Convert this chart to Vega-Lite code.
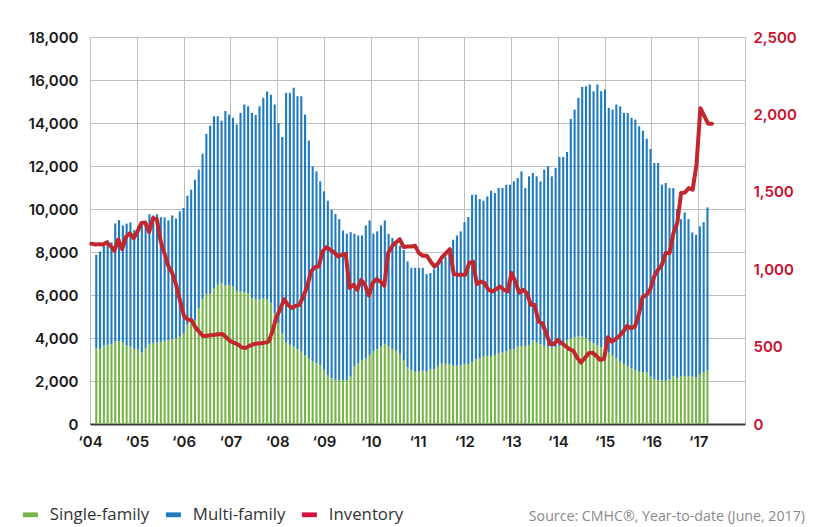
{
  "$schema": "https://vega.github.io/schema/vega-lite/v6.json",
  "width": 655,
  "height": 387,
  "autosize": "none",
  "padding": {"left": 90, "top": 37, "right": 69, "bottom": 103},
  "background": "#ffffff",
  "config": {
    "view": {"stroke": null},
    "axis": {"labelFlush": false, "labelOverlap": false, "ticks": false, "title": null, "labelFont": "Inter", "labelFontSize": 15, "labelFontWeight": 600, "labelColor": "#1a1a1a", "gridColor": "#bdbdbd", "gridWidth": 1}
  },
  "title": {"text": "Source: CMHC®, Year-to-date (June, 2017)", "orient": "bottom", "anchor": "end", "frame": "group", "font": "Open Sans", "fontSize": 14.2, "fontWeight": "normal", "color": "#8a8a8a", "offset": -14, "dx": 60},
  "datasets": {
    "years": [{"yr":2004},{"yr":2005},{"yr":2006},{"yr":2007},{"yr":2008},{"yr":2009},{"yr":2010},{"yr":2011},{"yr":2012},{"yr":2013},{"yr":2014},{"yr":2015},{"yr":2016},{"yr":2017},{"yr":2018}],
    "monthly": [
      {"k":0,"sf":3524,"mf":4346,"inv":1165},{"k":1,"sf":3478,"mf":4547,"inv":1160},{"k":2,"sf":3648,"mf":4802,"inv":1162},{"k":3,"sf":3679,"mf":4871,"inv":1160},{"k":4,"sf":3710,"mf":4740,"inv":1172},{"k":5,"sf":3834,"mf":5496,"inv":1150},{"k":6,"sf":3865,"mf":5615,"inv":1120},{"k":7,"sf":3788,"mf":5447,"inv":1192},{"k":8,"sf":3648,"mf":5672,"inv":1130},{"k":9,"sf":3602,"mf":5778,"inv":1210},{"k":10,"sf":3493,"mf":5527,"inv":1232},{"k":11,"sf":3478,"mf":5722,"inv":1200},
      {"k":12,"sf":3322,"mf":5928,"inv":1244},{"k":13,"sf":3524,"mf":5826,"inv":1298},{"k":14,"sf":3726,"mf":6034,"inv":1302},{"k":15,"sf":3757,"mf":5943,"inv":1240},{"k":16,"sf":3788,"mf":5972,"inv":1330},{"k":17,"sf":3819,"mf":5801,"inv":1322},{"k":18,"sf":3850,"mf":5760,"inv":1180},{"k":19,"sf":3912,"mf":5558,"inv":1100},{"k":20,"sf":3943,"mf":5757,"inv":1020},{"k":21,"sf":3990,"mf":5560,"inv":975},{"k":22,"sf":4067,"mf":5823,"inv":900},{"k":23,"sf":4222,"mf":5828,"inv":800},
      {"k":24,"sf":4610,"mf":6010,"inv":700},{"k":25,"sf":4688,"mf":6212,"inv":675},{"k":26,"sf":4843,"mf":6517,"inv":670},{"k":27,"sf":5386,"mf":6444,"inv":625},{"k":28,"sf":5805,"mf":6765,"inv":595},{"k":29,"sf":6038,"mf":7452,"inv":568},{"k":30,"sf":6054,"mf":7826,"inv":570},{"k":31,"sf":6318,"mf":7992,"inv":573},{"k":32,"sf":6473,"mf":7837,"inv":576},{"k":33,"sf":6551,"mf":7559,"inv":580},{"k":34,"sf":6427,"mf":8133,"inv":582},{"k":35,"sf":6473,"mf":7917,"inv":560},
      {"k":36,"sf":6396,"mf":7844,"inv":535},{"k":37,"sf":6163,"mf":7762,"inv":525},{"k":38,"sf":6163,"mf":8307,"inv":515},{"k":39,"sf":6117,"mf":8743,"inv":495},{"k":40,"sf":6085,"mf":8695,"inv":490},{"k":41,"sf":5852,"mf":8618,"inv":505},{"k":42,"sf":5805,"mf":8570,"inv":515},{"k":43,"sf":5805,"mf":8975,"inv":520},{"k":44,"sf":5852,"mf":9318,"inv":522},{"k":45,"sf":5805,"mf":9655,"inv":526},{"k":46,"sf":5619,"mf":9691,"inv":532},{"k":47,"sf":5154,"mf":9706,"inv":600},
      {"k":48,"sf":4700,"mf":9300,"inv":690},{"k":49,"sf":4200,"mf":9150,"inv":740},{"k":50,"sf":3800,"mf":11600,"inv":805},{"k":51,"sf":3680,"mf":11720,"inv":770},{"k":52,"sf":3600,"mf":12035,"inv":750},{"k":53,"sf":3480,"mf":11765,"inv":763},{"k":54,"sf":3370,"mf":11875,"inv":770},{"k":55,"sf":3210,"mf":11180,"inv":824},{"k":56,"sf":3060,"mf":10120,"inv":888},{"k":57,"sf":2900,"mf":9080,"inv":985},{"k":58,"sf":2830,"mf":8920,"inv":1013},{"k":59,"sf":2750,"mf":8535,"inv":1017},
      {"k":60,"sf":2515,"mf":8305,"inv":1114},{"k":61,"sf":2282,"mf":8103,"inv":1143},{"k":62,"sf":2127,"mf":7838,"inv":1125},{"k":63,"sf":2049,"mf":7716,"inv":1108},{"k":64,"sf":2049,"mf":7481,"inv":1082},{"k":65,"sf":2049,"mf":6951,"inv":1093},{"k":66,"sf":2049,"mf":6801,"inv":1099},{"k":67,"sf":2204,"mf":6721,"inv":878},{"k":68,"sf":2670,"mf":6180,"inv":899},{"k":69,"sf":2825,"mf":5945,"inv":867},{"k":70,"sf":2980,"mf":5790,"inv":931},{"k":71,"sf":3058,"mf":6177,"inv":899},
      {"k":72,"sf":3213,"mf":6257,"inv":830},{"k":73,"sf":3369,"mf":5481,"inv":910},{"k":74,"sf":3478,"mf":5482,"inv":936},{"k":75,"sf":3602,"mf":5633,"inv":920},{"k":76,"sf":3726,"mf":5744,"inv":893},{"k":77,"sf":3602,"mf":5248,"inv":1104},{"k":78,"sf":3493,"mf":5157,"inv":1147},{"k":79,"sf":3415,"mf":5045,"inv":1173},{"k":80,"sf":3260,"mf":5030,"inv":1194},{"k":81,"sf":2950,"mf":5150,"inv":1143},{"k":82,"sf":2639,"mf":4921,"inv":1147},{"k":83,"sf":2515,"mf":4750,"inv":1147},
      {"k":84,"sf":2437,"mf":4828,"inv":1151},{"k":85,"sf":2437,"mf":4828,"inv":1104},{"k":86,"sf":2484,"mf":4781,"inv":1087},{"k":87,"sf":2437,"mf":4533,"inv":1087},{"k":88,"sf":2546,"mf":4474,"inv":1050},{"k":89,"sf":2546,"mf":4654,"inv":1017},{"k":90,"sf":2701,"mf":4689,"inv":1039},{"k":91,"sf":2825,"mf":4765,"inv":1078},{"k":92,"sf":2794,"mf":4996,"inv":1104},{"k":93,"sf":2794,"mf":5156,"inv":1130},{"k":94,"sf":2717,"mf":5853,"inv":970},{"k":95,"sf":2717,"mf":6053,"inv":964},
      {"k":96,"sf":2717,"mf":6243,"inv":964},{"k":97,"sf":2794,"mf":6596,"inv":964},{"k":98,"sf":2794,"mf":6831,"inv":1039},{"k":99,"sf":2872,"mf":7793,"inv":1050},{"k":100,"sf":3011,"mf":7654,"inv":903},{"k":101,"sf":3058,"mf":7407,"inv":920},{"k":102,"sf":3136,"mf":7249,"inv":910},{"k":103,"sf":3167,"mf":7418,"inv":867},{"k":104,"sf":3136,"mf":7714,"inv":856},{"k":105,"sf":3213,"mf":7527,"inv":871},{"k":106,"sf":3291,"mf":7684,"inv":888},{"k":107,"sf":3322,"mf":7653,"inv":867},
      {"k":108,"sf":3369,"mf":7761,"inv":856},{"k":109,"sf":3478,"mf":7652,"inv":975},{"k":110,"sf":3478,"mf":7807,"inv":920},{"k":111,"sf":3602,"mf":7838,"inv":849},{"k":112,"sf":3633,"mf":8117,"inv":867},{"k":113,"sf":3633,"mf":7342,"inv":845},{"k":114,"sf":3679,"mf":7841,"inv":770},{"k":115,"sf":3881,"mf":7794,"inv":770},{"k":116,"sf":3788,"mf":7732,"inv":662},{"k":117,"sf":3710,"mf":7575,"inv":651},{"k":118,"sf":3633,"mf":8197,"inv":586},{"k":119,"sf":3602,"mf":8383,"inv":517},
      {"k":120,"sf":3571,"mf":7949,"inv":517},{"k":121,"sf":3571,"mf":8339,"inv":543},{"k":122,"sf":3633,"mf":8787,"inv":522},{"k":123,"sf":3757,"mf":8663,"inv":504},{"k":124,"sf":3912,"mf":8738,"inv":483},{"k":125,"sf":3990,"mf":10200,"inv":474},{"k":126,"sf":4036,"mf":10584,"inv":429},{"k":127,"sf":4067,"mf":11103,"inv":397},{"k":128,"sf":4067,"mf":11613,"inv":425},{"k":129,"sf":3990,"mf":11720,"inv":457},{"k":130,"sf":3834,"mf":11956,"inv":461},{"k":131,"sf":3757,"mf":11718,"inv":440},
      {"k":132,"sf":3679,"mf":12111,"inv":414},{"k":133,"sf":3571,"mf":11904,"inv":420},{"k":134,"sf":3446,"mf":12109,"inv":560},{"k":135,"sf":3322,"mf":11378,"inv":532},{"k":136,"sf":3183,"mf":11437,"inv":548},{"k":137,"sf":3058,"mf":11802,"inv":569},{"k":138,"sf":2903,"mf":11877,"inv":597},{"k":139,"sf":2794,"mf":11676,"inv":634},{"k":140,"sf":2701,"mf":11769,"inv":619},{"k":141,"sf":2592,"mf":11648,"inv":629},{"k":142,"sf":2515,"mf":11645,"inv":705},{"k":143,"sf":2437,"mf":11413,"inv":819},
      {"k":144,"sf":2406,"mf":11239,"inv":834},{"k":145,"sf":2400,"mf":10870,"inv":870},{"k":146,"sf":2204,"mf":10586,"inv":953},{"k":147,"sf":2080,"mf":10060,"inv":996},{"k":148,"sf":2049,"mf":10091,"inv":1028},{"k":149,"sf":2018,"mf":9112,"inv":1104},{"k":150,"sf":2018,"mf":9192,"inv":1104},{"k":151,"sf":2080,"mf":8895,"inv":1233},{"k":152,"sf":2235,"mf":8740,"inv":1298},{"k":153,"sf":2127,"mf":7873,"inv":1492},{"k":154,"sf":2204,"mf":7326,"inv":1496},{"k":155,"sf":2235,"mf":7605,"inv":1524},
      {"k":156,"sf":2235,"mf":7295,"inv":1514},{"k":157,"sf":2204,"mf":6706,"inv":1680},{"k":158,"sf":2173,"mf":6627,"inv":2040},{"k":159,"sf":2329,"mf":6861,"inv":1990},{"k":160,"sf":2406,"mf":6984,"inv":1940},{"k":161,"sf":2484,"mf":7591,"inv":1940}
    ]
  },
  "layer": [
    {
      "data": {"name": "years"},
      "mark": {"type": "rule", "strokeOpacity": 0},
      "encoding": {
        "x": {
          "field": "yr", "type": "quantitative",
          "scale": {"domain": [2004, 2018], "nice": false, "zero": false},
          "axis": {
            "orient": "bottom",
            "values": [2004,2005,2006,2007,2008,2009,2010,2011,2012,2013,2014,2015,2016,2017,2018],
            "labelExpr": "datum.value < 2018 ? '‘' + slice(toString(datum.value), 2) : ''",
            "grid": true,
            "domain": true, "domainColor": "#3a3a3a", "domainWidth": 2,
            "labelPadding": 10, "labelDx": 2
          }
        }
      }
    },
    {
      "data": {"name": "monthly"},
      "transform": [{"fold": ["sf", "mf"], "as": ["key", "value"]}],
      "mark": {"type": "bar", "width": 2.1},
      "encoding": {
        "x": {"field": "k", "type": "quantitative", "scale": {"domain": [-0.337, 169.57], "nice": false, "zero": false}, "axis": null},
        "y": {
          "field": "value", "type": "quantitative", "stack": "zero",
          "scale": {"domain": [0, 18000], "nice": false},
          "axis": {"orient": "left", "values": [0,2000,4000,6000,8000,10000,12000,14000,16000,18000], "format": ",d", "grid": true, "domain": false, "labelPadding": 12}
        },
        "color": {
          "field": "key", "type": "nominal",
          "scale": {"domain": ["sf", "mf", "inv"], "range": ["#74b546", "#1f7bc1", "#d3143f"]},
          "legend": {
            "orient": "none", "legendX": -68, "legendY": 469, "direction": "horizontal", "title": null,
            "symbolType": "M-1,-0.32H1V0.32H-1Z", "symbolSize": 225, "symbolStrokeWidth": 0,
            "labelFont": "Open Sans", "labelFontSize": 16.8, "labelColor": "#333333", "labelOffset": 11,
            "columnPadding": 15, "padding": 0, "offset": 0,
            "labelExpr": "datum.label == 'sf' ? 'Single-family' : datum.label == 'mf' ? 'Multi-family' : 'Inventory'"
          }
        },
        "order": {"field": "key", "sort": "descending"}
      }
    },
    {
      "data": {"name": "monthly"},
      "mark": {"type": "line", "color": "#c1272d", "strokeWidth": 4, "strokeJoin": "round", "strokeCap": "round"},
      "encoding": {
        "x": {"field": "k", "type": "quantitative", "scale": {"domain": [-0.337, 169.57], "nice": false, "zero": false}, "axis": null},
        "y": {
          "field": "inv", "type": "quantitative",
          "scale": {"domain": [0, 2500], "nice": false},
          "axis": {"orient": "right", "values": [0,500,1000,1500,2000,2500], "format": ",d", "grid": false, "domain": false, "labelPadding": 8, "labelColor": "#c8102e"}
        }
      }
    }
  ],
  "resolve": {"scale": {"x": "independent", "y": "independent"}, "axis": {"x": "independent", "y": "independent"}}
}
